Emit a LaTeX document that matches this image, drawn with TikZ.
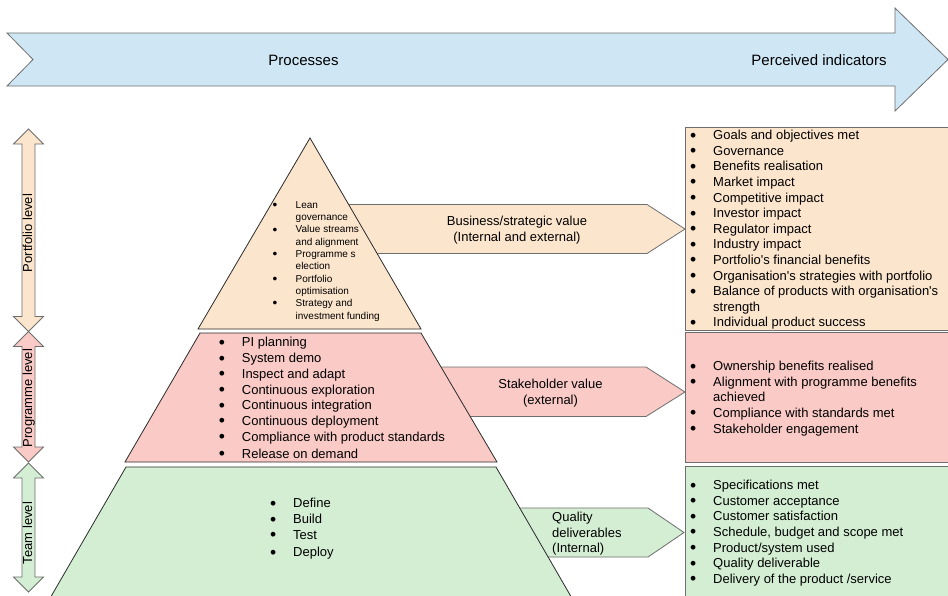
\documentclass[tikz,border=0pt]{standalone}
\usepackage{fontspec}
\setmainfont{Liberation Sans}
\definecolor{blueF}{HTML}{CFE7F5}
\definecolor{orangeF}{HTML}{FCE5CD}
\definecolor{pinkF}{HTML}{F9CAC6}
\definecolor{greenF}{HTML}{D3EED3}
\definecolor{edgeG}{HTML}{6E6E6E}
\definecolor{edgeD}{HTML}{2B2B2B}
\newcommand\bul{\makebox[23pt][l]{\raisebox{-0.12em}{\scalebox{1.35}{\textbullet}}}}
\newcommand\ind{\hspace*{23pt}}
\newcommand\apo{\textquotesingle}
\newcommand\vdarrow[3]{%
  \draw[shapeG, fill=#1] (28.5,#2) -- (43.5,#2+15) -- (35,#2+15) -- (35,#3-15) -- (43.5,#3-15) -- (28.5,#3) -- (13.5,#3-15) -- (22,#3-15) -- (22,#2+15) -- (13.5,#2+15) -- cycle;}
\begin{document}
\begin{tikzpicture}[x=1pt,y=-1pt,
  shapeG/.style={draw=edgeG, line width=0.8pt, line join=miter},
  pyr/.style={draw=edgeD, line width=0.8pt, line join=miter},
  lbl/.style={font=\fontsize{13}{15.6}\selectfont, text=black, inner sep=0pt},
  lst/.style={font=\fontsize{13}{15.6}\selectfont, text=black, align=left, inner sep=0pt, anchor=north west},
  smalllst/.style={font=\fontsize{10}{12.3}\selectfont, text=black, align=left, inner sep=0pt, anchor=north west},
  biglbl/.style={font=\fontsize{15}{18}\selectfont, text=black, inner sep=0pt},
]
\clip (0,0) rectangle (948,595);
\fill[white] (0,0) rectangle (948,595);

% top process arrow
\draw[shapeG, fill=blueF] (7,33) -- (895,33) -- (895,8) -- (948,59.5) -- (895,111) -- (895,86) -- (7,86) -- (33,59.5) -- cycle;
\node[biglbl] (proc) at (303.5,60) {Processes};
\node[biglbl] (perc) at (819,60) {Perceived indicators};

% left level arrows
\vdarrow{orangeF}{129}{331.5}
\vdarrow{pinkF}{331.5}{462}
\vdarrow{greenF}{463}{592}
\node[lbl, rotate=90, text height=9.5pt, text depth=2.5pt] (lpf) at (28.5,233) {Portfolio level};
\node[lbl, rotate=90, text height=9.5pt, text depth=2.5pt] (lpg) at (28.5,398) {Programme level};
\node[lbl, rotate=90, text height=9.5pt, text depth=2.5pt] (ltm) at (28.5,533) {Team level};

% value arrows
\draw[shapeG, fill=orangeF] (330,204.5) -- (647,204.5) -- (685,229) -- (647,253.5) -- (330,253.5) -- cycle;
\draw[shapeG, fill=pinkF] (420,367) -- (646,367) -- (685,392) -- (646,416.5) -- (420,416.5) -- cycle;
\draw[shapeG, fill=greenF] (500,508) -- (648,508) -- (684,532.5) -- (648,557) -- (500,557) -- cycle;
\node[lbl, align=center, anchor=north, font=\fontsize{13}{16.2}\selectfont] (biz) at (517,215.5) {Business/strategic value\\(Internal and external)};
\node[lbl, align=center, anchor=north, font=\fontsize{13}{15.4}\selectfont] (stk) at (550.5,379.3) {Stakeholder value\\(external)};
\node[lst, font=\fontsize{13}{15.5}\selectfont] (qd) at (552,512) {Quality\\deliverables\\(Internal)};

% indicator boxes
\draw[shapeG, fill=orangeF] (685,127) rectangle (960,330.5);
\draw[shapeG, fill=pinkF] (685,332.5) rectangle (960,462.5);
\draw[shapeG, fill=greenF] (685,466.5) rectangle (960,600);

\node[lst] (olist) at (690,130) {\bul Goals and objectives met\\\bul Governance\\\bul Benefits realisation\\\bul Market impact\\\bul Competitive impact\\\bul Investor impact\\\bul Regulator impact\\\bul Industry impact\\\bul Portfolio\apo s financial benefits\\\bul Organisation\apo s strategies with portfolio\\\bul Balance of products with organisation\apo s\\\ind strength\\\bul Individual product success};
\node[lst] (plist) at (690,361) {\bul Ownership benefits realised\\\bul Alignment with programme benefits\\\ind achieved\\\bul Compliance with standards met\\\bul Stakeholder engagement};
\node[lst] (glist) at (690,480) {\bul Specifications met\\\bul Customer acceptance\\\bul Customer satisfaction\\\bul Schedule, budget and scope met\\\bul Product/system used\\\bul Quality deliverable\\\bul Delivery of the product /service};

% pyramid
\draw[pyr, fill=orangeF] (310,138) -- (421,329) -- (198,329) -- cycle;
\draw[pyr, fill=pinkF] (200,333) -- (421,333) -- (497,462) -- (125,462) -- cycle;
\draw[pyr, fill=greenF] (126,467) -- (496,467) -- (573,600) -- (49,600) -- cycle;

\node[smalllst] (tlist) at (272.5,201.3) {\bul Lean\\\ind governance\\\bul Value streams\\\ind and alignment\\\bul Programme s\\\ind election\\\bul Portfolio\\\ind optimisation\\\bul Strategy and\\\ind investment funding};
\node[lst, font=\fontsize{13}{15.7}\selectfont] (mlist) at (218.7,337.3) {\bul PI planning\\\bul System demo\\\bul Inspect and adapt\\\bul Continuous exploration\\\bul Continuous integration\\\bul Continuous deployment\\\bul Compliance with product standards\\[1.6pt]\bul Release on demand};
\node[lst, font=\fontsize{13}{15.7}\selectfont] (blist) at (270,498.3) {\bul Define\\\bul Build\\\bul Test\\[1.9pt]\bul Deploy};
\end{tikzpicture}
\end{document}
